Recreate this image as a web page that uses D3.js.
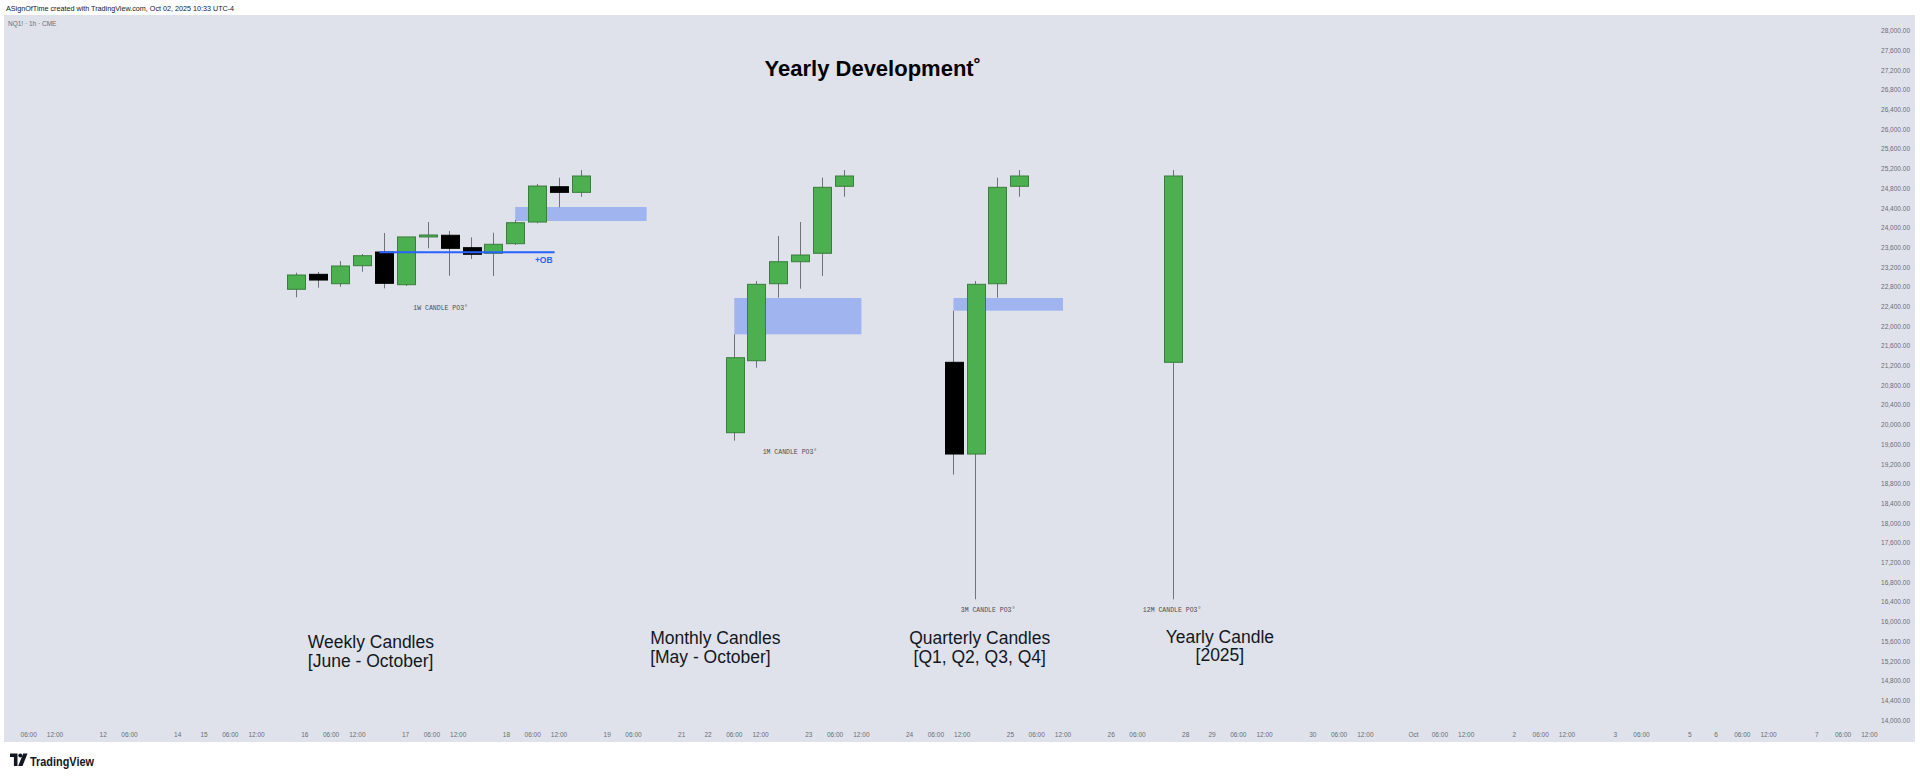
<!DOCTYPE html>
<html>
<head>
<meta charset="utf-8">
<script src="https://cdn.jsdelivr.net/npm/d3@7"></script>
<style>
  body { margin: 0; background: #fff; }
  svg { display: block; }
</style>
</head>
<body>
<svg id="chart" width="1920" height="776"></svg>
<script>
// Candles: [bar index, open, high, low, close]
// bar index counts hourly NQ bars from Thu Sep 11 2025 00:00
const weeklyCandles = [
  [67, 22748, 23085, 22585, 23038],
  [72, 23052, 23099, 22780, 22936],
  [77, 22861, 23322, 22800, 23221],
  [82, 23227, 23464, 23105, 23430],
  [87, 23505, 23892, 22767, 22869],
  [92, 22841, 23811, 22815, 23811],
  [97, 23811, 24115, 23580, 23851],
  [102, 23845, 23933, 23024, 23580],
  [107, 23593, 23804, 23363, 23459],
  [112, 23479, 23897, 23018, 23662],
  [117, 23674, 24155, 23647, 24100],
  [122, 24114, 24886, 24088, 24845],
  [127, 24831, 25014, 24413, 24717],
  [132, 24717, 25170, 24628, 25049]
]
const monthlyCandles = [
  [167, 19835, 21834, 19673, 21358],
  [172, 21297, 22916, 21155, 22849],
  [177, 22861, 23830, 22577, 23308],
  [182, 23308, 24115, 22760, 23444],
  [187, 23479, 25014, 23018, 24819],
  [192, 24840, 25170, 24628, 25049]
]
const quarterlyCandles = [
  [217, 21265, 22313, 18982, 19402],
  [222, 19402, 22916, 16451, 22849],
  [227, 22861, 25014, 22577, 24819],
  [232, 24840, 25170, 24628, 25049]
]
const yearlyCandles = [
  [267, 21265, 25170, 16451, 25049]
]

// Zones: [start bar, end bar, top, bottom]
const zones = [
  [117, 147, 24419, 24135],
  [167, 196, 22571, 21834],
  [217, 242, 22571, 22313]
]
// Order block line: [start bar, end bar, price]
const obLine = [86, 126, 23499]

// PO3 labels: [text, bar, price]
const po3Labels = [
  ["1W CANDLE PO3°", 100, 22368],
  ["1M CANDLE PO3°", 179.7, 19443],
  ["3M CANDLE PO3°", 224.9, 16234],
  ["12M CANDLE PO3°", 266.9, 16234]
]
// Captions: [lines, bar, price, anchor]
const captions = [
  [["Weekly Candles", "[June - October]"], 69.7, 15584, "start"],
  [["Monthly Candles", "[May - October]"], 147.8, 15659, "start"],
  [["Quarterly Candles", "[Q1, Q2, Q3, Q4]"], 223, 15659, "middle"],
  [["Yearly Candle", "[2025]"], 277.8, 15686, "middle"]
]
const title = ["Yearly Development˚", 198.6, 27230]

const priceTicks = d3.range(14000, 28001, 400)
const symbolText = "NQ1! · 1h · CME"
const headerText = "ASignOfTime created with TradingView.com, Oct 02, 2025 10:33 UTC-4"

// ---- layout ----
const W = 1920, H = 776
const plot = { left: 4, top: 15, right: 1915, bottom: 742 }
const bg = "#dfe2ea"

const svg = d3.select("#chart")

// hourly session bars (closed 17:00 daily, Fri 17:00 -> Sun 18:00)
const bars = []
for (let t = new Date(2025, 8, 11, 0); t <= new Date(2025, 9, 7, 16); t = new Date(t.getTime() + 3600e3)) {
  const h = t.getHours(), wd = t.getDay()
  if (h === 17) continue
  if (wd === 6) continue
  if (wd === 5 && h > 17) continue
  if (wd === 0 && h < 18) continue
  bars.push(t)
}

const x = d3.scaleLinear().domain([0, 391]).range([2.4, 1716])
const y = d3.scaleLinear().domain([14000, 28000]).range([720, 30.7])
const bodyW = x(4) - x(0)

// header
svg.append("text")
  .attr("x", 6).attr("y", 10.5)
  .attr("font-family", "Liberation Sans, Arial, sans-serif")
  .attr("font-size", 7.2).attr("fill", "#131722")
  .text(headerText)

svg.append("rect")
  .attr("x", plot.left).attr("y", plot.top)
  .attr("width", plot.right - plot.left).attr("height", plot.bottom - plot.top)
  .attr("fill", bg)

svg.append("defs").append("clipPath").attr("id", "clip")
  .append("rect")
  .attr("x", plot.left).attr("y", plot.top)
  .attr("width", 1876 - plot.left).attr("height", 726 - plot.top)

svg.append("text")
  .attr("x", 8).attr("y", 26)
  .attr("font-family", "Liberation Sans, Arial, sans-serif")
  .attr("font-size", 6.5).attr("fill", "#6a6d78")
  .text(symbolText)

// price axis
const yAxis = d3.axisLeft(y)
  .tickValues(priceTicks)
  .tickSize(0)
  .tickFormat(d3.format(",.2f"))
const ga = svg.append("g")
  .attr("transform", "translate(1910,0)")
  .call(yAxis)
ga.select(".domain").remove()
ga.selectAll("text")
  .attr("font-family", "Liberation Sans, Arial, sans-serif")
  .attr("font-size", 6.5).attr("fill", "#6a6d78")
  .attr("x", 0)

// time axis labels
const timeTicks = []
bars.forEach((t, i) => {
  const h = t.getHours(), wd = t.getDay()
  let label = null
  if (h === 0 && wd !== 0) label = t.getDate() === 1 ? d3.timeFormat("%b")(t) : String(t.getDate())
  else if (wd === 0 && h === 18) label = String(t.getDate())
  else if (h === 6) label = "06:00"
  else if (h === 12 && wd !== 5) label = "12:00"
  if (label && x(i) > 12 && x(i) < 1875) timeTicks.push([i, label])
})
svg.append("g").selectAll("text")
  .data(timeTicks)
  .join("text")
  .attr("x", d => x(d[0]))
  .attr("y", 736.5)
  .attr("text-anchor", "middle")
  .attr("font-family", "Liberation Sans, Arial, sans-serif")
  .attr("font-size", 6.5).attr("fill", "#6a6d78")
  .text(d => d[1])

const g = svg.append("g").attr("clip-path", "url(#clip)")

// zones
g.append("g").selectAll("rect")
  .data(zones)
  .join("rect")
  .attr("x", d => x(d[0]))
  .attr("y", d => y(d[2]))
  .attr("width", d => x(d[1]) - x(d[0]))
  .attr("height", d => y(d[3]) - y(d[2]))
  .attr("fill", "#a0b4f0")

// candles
const allCandles = [...weeklyCandles, ...monthlyCandles, ...quarterlyCandles, ...yearlyCandles]
const candle = g.append("g").selectAll("g")
  .data(allCandles)
  .join("g")

candle.append("line")
  .attr("x1", d => Math.round(x(d[0])) + 0.5)
  .attr("x2", d => Math.round(x(d[0])) + 0.5)
  .attr("y1", d => y(d[2]))
  .attr("y2", d => y(d[3]))
  .attr("stroke", "#70737e")
  .attr("stroke-width", 1)

candle.append("rect")
  .attr("x", d => Math.round(x(d[0]) - bodyW / 2) + 0.5)
  .attr("y", d => y(Math.max(d[1], d[4])))
  .attr("width", Math.round(bodyW))
  .attr("height", d => Math.max(1.5, Math.abs(y(d[1]) - y(d[4]))))
  .attr("fill", d => d[4] >= d[1] ? "#4caf50" : "#000")
  .attr("stroke", d => d[4] >= d[1] ? "#3a7d3d" : "#000")
  .attr("stroke-width", 1)

// order block
g.append("line")
  .attr("x1", x(obLine[0])).attr("x2", x(obLine[1]))
  .attr("y1", y(obLine[2])).attr("y2", y(obLine[2]))
  .attr("stroke", "#2962ff").attr("stroke-width", 2)
g.append("text")
  .attr("x", x(obLine[1]) - 2).attr("y", y(obLine[2]) + 11)
  .attr("text-anchor", "end")
  .attr("font-family", "Liberation Sans, Arial, sans-serif")
  .attr("font-weight", "bold")
  .attr("font-size", 8.5).attr("fill", "#2962ff")
  .text("+OB")

// PO3 labels
g.append("g").selectAll("text")
  .data(po3Labels)
  .join("text")
  .attr("x", d => x(d[1]))
  .attr("y", d => y(d[2]))
  .attr("dy", "0.35em")
  .attr("text-anchor", "middle")
  .attr("font-family", "Liberation Mono, DejaVu Sans Mono, monospace")
  .attr("font-size", 6.5).attr("fill", "#4a4d56")
  .text(d => d[0])

// captions
const cap = g.append("g").selectAll("text")
  .data(captions)
  .join("text")
  .attr("x", d => x(d[1]))
  .attr("y", d => y(d[2]))
  .attr("dy", "0.35em")
  .attr("text-anchor", d => d[3])
  .attr("font-family", "Liberation Sans, Arial, sans-serif")
  .attr("font-size", 17.5).attr("fill", "#131722")
cap.selectAll("tspan")
  .data(d => d[0].map((s, i) => [s, i, d[1]]))
  .join("tspan")
  .attr("x", d => x(d[2]))
  .attr("dy", d => d[1] === 0 ? "0.35em" : "1.05em")
  .text(d => d[0])

// title
g.append("text")
  .attr("x", x(title[1])).attr("y", y(title[2]))
  .attr("dy", "0.35em")
  .attr("text-anchor", "middle")
  .attr("font-family", "Liberation Sans, Arial, sans-serif")
  .attr("font-weight", "bold")
  .attr("font-size", 22).attr("fill", "#000")
  .text(title[0])

// TradingView logo
const logo = svg.append("g").attr("fill", "#131722")
logo.append("path").attr("d", "M10,753.5 h7.5 v12.5 h-3.6 v-8.9 h-3.9 z")
logo.append("circle").attr("cx", 20.3).attr("cy", 755.6).attr("r", 2)
logo.append("path").attr("d", "M23.2,753.5 h4.3 l-5,12.5 h-4.3 z")
logo.append("text")
  .attr("x", 30).attr("y", 766)
  .attr("font-family", "Liberation Sans, Arial, sans-serif")
  .attr("font-weight", "bold")
  .attr("font-size", 13)
  .attr("textLength", 64).attr("lengthAdjust", "spacingAndGlyphs")
  .text("TradingView")
</script>
</body>
</html>
